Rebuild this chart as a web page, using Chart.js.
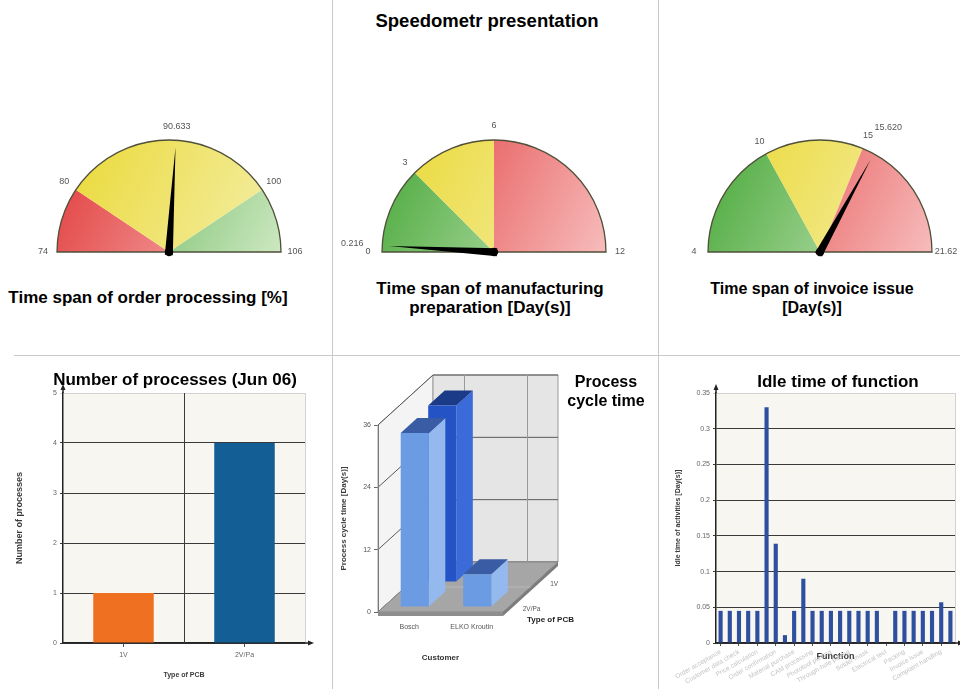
<!DOCTYPE html>
<html lang="en">
<head>
<meta charset="utf-8">
<title>Speedometr presentation</title>
<script src="https://cdn.jsdelivr.net/npm/chart.js@4.4.1/dist/chart.umd.min.js"></script>
<style>
  html, body { margin: 0; padding: 0; background: #fff; }
  #page { position: relative; width: 960px; height: 689px; overflow: hidden;
          font-family: "Liberation Sans", Arial, Helvetica, sans-serif; color: #000; }
  #page canvas { position: absolute; }
  .label { position: absolute; font-weight: bold; text-align: center; white-space: nowrap;
           transform: translateX(-50%); }
  .rule { position: absolute; background: #c9c9c9; }
</style>
</head>
<body>
<div id="page">
  <div class="label" style="left:487px;top:10px;font-size:18.5px;line-height:22px;">Speedometr presentation</div>
  <div class="rule" style="left:332px;top:0;width:1px;height:689px"></div>
  <div class="rule" style="left:658px;top:0;width:1px;height:689px"></div>
  <div class="rule" style="left:14px;top:355px;width:946px;height:1px"></div>

  <canvas id="g1" width="331" height="170" style="left:0;top:100px"></canvas>
  <canvas id="g2" width="325" height="170" style="left:333px;top:100px"></canvas>
  <canvas id="g3" width="301" height="170" style="left:659px;top:100px"></canvas>

  <div class="label" style="left:148px;top:288px;font-size:17px;line-height:19px;">Time span of order processing [%]</div>
  <div class="label" style="left:490px;top:279px;font-size:17px;line-height:19px;">Time span of manufacturing<br>preparation [Day(s)]</div>
  <div class="label" style="left:812px;top:279px;font-size:16px;line-height:19px;">Time span of invoice issue<br>[Day(s)]</div>

  <canvas id="bars" width="331" height="333" style="left:0;top:356px"></canvas>
  <canvas id="cycle" width="325" height="333" style="left:333px;top:356px"></canvas>
  <canvas id="idle" width="301" height="333" style="left:659px;top:356px"></canvas>

  <div class="label" style="left:175px;top:370px;font-size:17px;line-height:19px;">Number of processes (Jun 06)</div>
  <div class="label" style="left:606px;top:372px;font-size:16px;line-height:19px;">Process<br>cycle time</div>
  <div class="label" style="left:838px;top:372px;font-size:17px;line-height:19px;">Idle time of function</div>
</div>

<script>
// ---------- data ----------
// Speedometers: zone boundaries and current reading
const orderStops = [74, 80, 100, 106];
const orderZones = ['red', 'yellow', 'green'];
const orderValue = 90.633;

const prepStops = [0, 3, 6, 12];
const prepZones = ['green', 'yellow', 'red'];
const prepValue = 0.216;

const invoiceStops = [4, 10, 15, 21.62];
const invoiceZones = ['green', 'yellow', 'red'];
const invoiceValue = 15.62;

// Number of processes per PCB type
const pcbTypes = ['1V', '2V/Pa'];
const processCounts = [1, 4];

// Process cycle time per customer and PCB type
const customers = ['Bosch', 'ELKO Kroutin'];
const cycleTime1V = [34, 0];
const cycleTime2VPa = [33.5, 6.3];
const cycleTicks = [0, 12, 24, 36];

// Idle time of each function
const functionNames = [
  'Order acceptance', 'Order registration', 'Customer data check', 'Technical review',
  'Price calculation', 'Offer preparation', 'Order confirmation', 'Material planning',
  'Material purchase', 'Data preparation', 'CAM processing', 'Production planning',
  'Phototool plotting', 'Drilling', 'Through-hole plating', 'Etching', 'Solder mask',
  'Surface finish', 'Electrical test', 'Final inspection', 'Packing', 'Dispatch',
  'Invoice issue', 'Payment check', 'Complaint handling', 'Archiving'
];
const idleTimes = [
  0.045, 0.045, 0.045, 0.045, 0.045, 0.33, 0.139, 0.011, 0.045, 0.09,
  0.045, 0.045, 0.045, 0.045, 0.045, 0.045, 0.045, 0.045, 0, 0.045,
  0.045, 0.045, 0.045, 0.045, 0.057, 0.045
];

// ---------- common settings ----------
Chart.defaults.font.family = '"Liberation Sans", Arial, Helvetica, sans-serif';
Chart.defaults.animation = false;
Chart.defaults.responsive = false;
Chart.defaults.events = [];
Chart.defaults.plugins.legend.display = false;
Chart.defaults.plugins.tooltip.enabled = false;

const zonePalette = {
  red:    ['#e23b3b', '#f7bcbc'],
  yellow: ['#ead832', '#f4efab'],
  green:  ['#48a838', '#cde8c2']
};

function zoneFill(ctx, zone) {
  const pair = zonePalette[zone];
  const a = ctx.chart.chartArea;
  if (!a) return pair[0];
  const g = ctx.chart.ctx.createLinearGradient(a.left, a.top, a.right, a.bottom);
  g.addColorStop(0, pair[0]);
  g.addColorStop(1, pair[1]);
  return g;
}

// ---------- speedometers ----------
function makeGauge(id, stops, zones, value, padding) {
  const spans = stops.slice(1).map((s, i) => s - stops[i]);
  const gaugePlugin = {
    id: 'gaugeDial',
    afterDatasetsDraw(chart) {
      const ctx = chart.ctx;
      const arcs = chart.getDatasetMeta(0).data;
      const first = arcs[0], last = arcs[arcs.length - 1];
      const cx = first.x, cy = first.y, r = first.outerRadius;
      const a0 = first.startAngle, a1 = last.endAngle;
      const lo = stops[0], hi = stops[stops.length - 1];
      const angleOf = v => a0 + (v - lo) / (hi - lo) * (a1 - a0);

      ctx.save();
      // dial outline
      ctx.strokeStyle = '#4f4f3a';
      ctx.lineWidth = 1.3;
      ctx.beginPath();
      ctx.arc(cx, cy, r, a0, a1);
      ctx.closePath();
      ctx.stroke();

      // boundary numbers
      ctx.font = '9px "Liberation Sans", Arial, sans-serif';
      ctx.fillStyle = '#555';
      ctx.textAlign = 'center';
      ctx.textBaseline = 'middle';
      const R = r + 14;
      const stopAngles = stops.map((s, i) => i === 0 ? first.startAngle : arcs[i - 1].endAngle);
      stops.forEach((s, i) => {
        const a = stopAngles[i];
        ctx.fillText(String(s), cx + R * Math.cos(a), cy + R * Math.sin(a));
      });
      // reading
      const av = angleOf(value);
      const near = stopAngles.some(a => Math.abs(a - av) < 0.2);
      const Rv = near ? R + 16 : R;
      ctx.fillText(value.toFixed(3), cx + Rv * Math.cos(av), cy + Rv * Math.sin(av));

      // needle
      ctx.translate(cx, cy);
      ctx.rotate(av);
      ctx.fillStyle = '#000';
      ctx.beginPath();
      ctx.moveTo(-3, -4);
      ctx.lineTo(r - 7, 0);
      ctx.lineTo(-3, 4);
      ctx.closePath();
      ctx.fill();
      ctx.beginPath();
      ctx.arc(0, 0, 4.2, 0, Math.PI * 2);
      ctx.fill();
      ctx.restore();
    }
  };
  return new Chart(document.getElementById(id), {
    type: 'doughnut',
    data: {
      labels: zones,
      datasets: [{
        data: spans,
        backgroundColor: c => zoneFill(c, zones[c.dataIndex]),
        borderWidth: 0,
        hoverOffset: 0
      }]
    },
    options: {
      rotation: -90,
      circumference: 180,
      cutout: 0,
      layout: { padding }
    },
    plugins: [gaugePlugin]
  });
}

makeGauge('g1', orderStops, orderZones, orderValue, { left: 57, right: 50, top: 40, bottom: 18 });
makeGauge('g2', prepStops, prepZones, prepValue, { left: 49, right: 52, top: 40, bottom: 18 });
makeGauge('g3', invoiceStops, invoiceZones, invoiceValue, { left: 49, right: 28, top: 40, bottom: 18 });

// ---------- flat bar charts: cream plot, light frame, arrowed axes ----------
function arrowHead(ctx, x, y, dir) {
  ctx.beginPath();
  if (dir === 'up') {
    ctx.moveTo(x, y - 4); ctx.lineTo(x - 2.5, y + 2); ctx.lineTo(x + 2.5, y + 2);
  } else {
    ctx.moveTo(x + 4, y); ctx.lineTo(x - 2, y - 2.5); ctx.lineTo(x - 2, y + 2.5);
  }
  ctx.closePath();
  ctx.fill();
}

const plotFrame = {
  id: 'plotFrame',
  beforeDraw(chart) {
    const { ctx, chartArea: a } = chart;
    ctx.save();
    ctx.fillStyle = '#f8f6f1';
    ctx.fillRect(a.left, a.top, a.width, a.height);
    ctx.restore();
  },
  afterDraw(chart) {
    const { ctx, chartArea: a } = chart;
    ctx.save();
    ctx.strokeStyle = '#d2d2d2';
    ctx.lineWidth = 1;
    ctx.beginPath();
    ctx.moveTo(a.right + 0.5, a.top);
    ctx.lineTo(a.right + 0.5, a.bottom);
    ctx.stroke();
    ctx.strokeStyle = '#222';
    ctx.fillStyle = '#222';
    ctx.lineWidth = 1.5;
    ctx.beginPath();
    ctx.moveTo(a.left, a.top);
    ctx.lineTo(a.left, a.top - 5);
    ctx.moveTo(a.right, a.bottom);
    ctx.lineTo(a.right + 5, a.bottom);
    ctx.stroke();
    arrowHead(ctx, a.left, a.top - 5, 'up');
    arrowHead(ctx, a.right + 5, a.bottom, 'right');
    ctx.restore();
  }
};

const tinyTick = { size: 7 };
const axisTitleColor = '#3a3a3a';

// middle separator between the two PCB types
const categorySeparator = {
  id: 'categorySeparator',
  beforeDatasetsDraw(chart) {
    const x = chart.scales.x, a = chart.chartArea, ctx = chart.ctx;
    const px = Math.round((x.getPixelForValue(0) + x.getPixelForValue(1)) / 2) + 0.5;
    ctx.save();
    ctx.strokeStyle = '#3a3a3a';
    ctx.lineWidth = 1;
    ctx.beginPath();
    ctx.moveTo(px, a.top);
    ctx.lineTo(px, a.bottom);
    ctx.stroke();
    ctx.restore();
  }
};

new Chart(document.getElementById('bars'), {
  type: 'bar',
  data: {
    labels: pcbTypes,
    datasets: [{
      data: processCounts,
      backgroundColor: ['#f07022', '#135e94'],
      barPercentage: 0.5,
      categoryPercentage: 1
    }]
  },
  options: {
    layout: { padding: { left: 10, right: 26, top: 37, bottom: 0 } },
    scales: {
      x: {
        grid: { offset: false, drawOnChartArea: false, drawTicks: true, tickLength: 4, color: '#555' },
        border: { display: true, color: '#222', width: 1.5 },
        ticks: { font: tinyTick, color: '#666', padding: 4 },
        title: { display: true, text: 'Type of PCB', color: axisTitleColor,
                 font: { size: 7, weight: 'bold' }, padding: { top: 0, bottom: 10 } },
        afterFit(s) { s.height = 46; s.paddingLeft = 0; s.paddingRight = 0; }
      },
      y: {
        min: 0, max: 5,
        ticks: { stepSize: 1, font: tinyTick, color: '#666', padding: 3 },
        grid: { color: c => (c.tick && c.tick.value === 5) ? '#d2d2d2' : '#3a3a3a', tickLength: 3 },
        border: { display: true, color: '#222', width: 1.5 },
        title: { display: true, text: 'Number of processes', color: axisTitleColor,
                 font: { size: 9, weight: 'bold' }, padding: { top: 4, bottom: 0 } },
        afterFit(s) { s.width = 53; }
      }
    }
  },
  plugins: [plotFrame, categorySeparator]
});

new Chart(document.getElementById('idle'), {
  type: 'bar',
  data: {
    labels: functionNames,
    datasets: [{
      data: idleTimes,
      backgroundColor: '#2e4f9f',
      barPercentage: 0.5,
      categoryPercentage: 0.9
    }]
  },
  options: {
    layout: { padding: { left: 10, right: 5, top: 37, bottom: 0 } },
    scales: {
      x: {
        grid: { offset: false, drawOnChartArea: false, drawTicks: true, tickLength: 3,
                tickColor: c => c.index % 2 === 0 ? '#555' : 'rgba(0,0,0,0)' },
        border: { display: true, color: '#222', width: 1.5 },
        ticks: {
          autoSkip: false, minRotation: 30, maxRotation: 30,
          font: { size: 6.5 }, color: '#c4c4c4', padding: 2,
          callback(v, i) { return i % 2 === 0 ? this.getLabelForValue(v) : ''; }
        },
        title: { display: true, text: 'Function', color: '#333',
                 font: { size: 9, weight: 'bold' }, padding: { top: 0, bottom: 27 } },
        afterFit(s) { s.height = 46; s.paddingLeft = 0; s.paddingRight = 0; }
      },
      y: {
        min: 0, max: 0.35,
        ticks: { stepSize: 0.05, font: tinyTick, color: '#666', padding: 3,
                 callback: v => String(Number(v.toFixed(2))) },
        grid: { color: c => c.index === c.scale.ticks.length - 1 ? '#d2d2d2' : '#3a3a3a', tickLength: 3 },
        border: { display: true, color: '#222', width: 1.5 },
        title: { display: true, text: 'Idle time of activities [Day(s)]', color: axisTitleColor,
                 font: { size: 7, weight: 'bold' }, padding: { top: 5, bottom: 0 } },
        afterFit(s) { s.width = 47; }
      }
    }
  },
  plugins: [plotFrame]
});

// ---------- 3D cycle-time chart ----------
const depth = { dx: 55, dy: -50 };

function poly(ctx, pts, fill, stroke) {
  ctx.beginPath();
  ctx.moveTo(pts[0][0], pts[0][1]);
  for (let i = 1; i < pts.length; i++) ctx.lineTo(pts[i][0], pts[i][1]);
  ctx.closePath();
  if (fill) { ctx.fillStyle = fill; ctx.fill(); }
  if (stroke) { ctx.strokeStyle = stroke; ctx.stroke(); }
}

const boxPlugin = {
  id: 'box3d',
  beforeDatasetsDraw(chart) {
    const ctx = chart.ctx, a = chart.chartArea, yScale = chart.scales.y, xScale = chart.scales.x;
    const { dx, dy } = depth;
    const L = a.left, R = a.right, T = a.top, B = a.bottom;
    ctx.save();
    ctx.lineWidth = 1;
    // side and back walls
    poly(ctx, [[L, T], [L, B], [L + dx, B + dy], [L + dx, T + dy]], '#f4f4f4', '#9a9a9a');
    poly(ctx, [[L + dx, T + dy], [R + dx, T + dy], [R + dx, B + dy], [L + dx, B + dy]], '#e5e5e5', '#9a9a9a');
    // value grid on both walls
    ctx.strokeStyle = '#5a5a5a';
    yScale.ticks.forEach(t => {
      const py = yScale.getPixelForValue(t.value);
      ctx.beginPath();
      ctx.moveTo(L, py); ctx.lineTo(L + dx, py + dy); ctx.lineTo(R + dx, py + dy);
      ctx.stroke();
    });
    ctx.strokeStyle = '#9a9a9a';
    customers.forEach((c, i) => {
      const px = Math.round(xScale.getPixelForValue(i) + dx) + 0.5;
      ctx.beginPath();
      ctx.moveTo(px, T + dy); ctx.lineTo(px, B + dy);
      ctx.stroke();
    });
    // floor slab
    poly(ctx, [[L, B], [R, B], [R + dx, B + dy], [L + dx, B + dy]], '#a6a6a6', '#8a8a8a');
    poly(ctx, [[L, B], [R, B], [R, B + 4], [L, B + 4]], '#8e8e8e', null);
    poly(ctx, [[R, B], [R + dx, B + dy], [R + dx, B + dy + 4], [R, B + 4]], '#7c7c7c', null);
    ctx.strokeStyle = '#b8b8b8';
    ctx.beginPath();
    ctx.moveTo(L + dx / 2, B + dy / 2); ctx.lineTo(R + dx / 2, B + dy / 2);
    ctx.stroke();
    // front wall edge
    ctx.strokeStyle = '#7a7a7a';
    ctx.beginPath();
    ctx.moveTo(L + 0.5, T); ctx.lineTo(L + 0.5, B);
    ctx.stroke();

    // prisms, back row first
    const order = chart.data.datasets.map((d, i) => i).sort((p, q) =>
      chart.data.datasets[q].depthRow - chart.data.datasets[p].depthRow);
    order.forEach(di => {
      const ds = chart.data.datasets[di];
      const f0 = ds.depthRow * 0.5 + 0.1, f1 = f0 + 0.3;
      const faces = ds.faces;
      chart.getDatasetMeta(di).data.forEach((el, j) => {
        if (!ds.data[j]) return;
        const x0 = el.x - el.width / 2 + dx * f0, x1 = el.x + el.width / 2 + dx * f0;
        const yt = el.y + dy * f0, yb = el.base + dy * f0;
        const ddx = dx * (f1 - f0), ddy = dy * (f1 - f0);
        poly(ctx, [[x1, yt], [x1, yb], [x1 + ddx, yb + ddy], [x1 + ddx, yt + ddy]], faces.side, null);
        poly(ctx, [[x0, yt], [x1, yt], [x1 + ddx, yt + ddy], [x0 + ddx, yt + ddy]], faces.top, null);
        poly(ctx, [[x0, yt], [x1, yt], [x1, yb], [x0, yb]], faces.front, null);
      });
    });

    // depth axis: PCB type names
    ctx.fillStyle = '#555';
    ctx.font = '6.5px "Liberation Sans", Arial, sans-serif';
    ctx.textAlign = 'left';
    ctx.textBaseline = 'middle';
    chart.data.datasets.forEach(ds => {
      const f = ds.depthRow * 0.5 + 0.25;
      ctx.fillText(ds.label, R + dx * f + 6, B + dy * f + 10);
    });
    ctx.fillStyle = '#222';
    ctx.font = 'bold 8px "Liberation Sans", Arial, sans-serif';
    ctx.fillText('Type of PCB', R + 24, B + 8);
    ctx.restore();
    return false;
  }
};

new Chart(document.getElementById('cycle'), {
  type: 'bar',
  data: {
    labels: customers,
    datasets: [
      { label: '1V', data: cycleTime1V, grouped: false, depthRow: 1,
        faces: { front: '#2453c6', side: '#3b6bd8', top: '#1b3a88' },
        barPercentage: 0.45, categoryPercentage: 1 },
      { label: '2V/Pa', data: cycleTime2VPa, grouped: false, depthRow: 0,
        faces: { front: '#6b9be2', side: '#93b9ee', top: '#3a5ca4' },
        barPercentage: 0.45, categoryPercentage: 1 }
    ]
  },
  options: {
    layout: { padding: { left: 2, right: 155, top: 69, bottom: 0 } },
    scales: {
      x: {
        grid: { offset: false, drawOnChartArea: false, drawTicks: true, tickLength: 4, color: '#666' },
        border: { display: false },
        ticks: { font: { size: 7 }, color: '#555', padding: 7 },
        title: { display: true, text: 'Customer', color: '#333',
                 font: { size: 8, weight: 'bold' }, padding: { top: 0, bottom: 26 } },
        afterFit(s) { s.height = 77; s.paddingLeft = 0; s.paddingRight = 0; }
      },
      y: {
        min: cycleTicks[0], max: cycleTicks[cycleTicks.length - 1],
        afterBuildTicks(s) { s.ticks = cycleTicks.map(v => ({ value: v })); },
        ticks: { font: { size: 7 }, color: '#555', padding: 3 },
        grid: { drawOnChartArea: false, drawTicks: true, tickLength: 4, color: '#666' },
        border: { display: false },
        title: { display: true, text: 'Process cycle time [Day(s)]', color: axisTitleColor,
                 font: { size: 8, weight: 'bold' }, padding: { top: 4, bottom: 0 } },
        afterFit(s) { s.width = 43; }
      }
    }
  },
  plugins: [boxPlugin]
});
</script>
</body>
</html>
